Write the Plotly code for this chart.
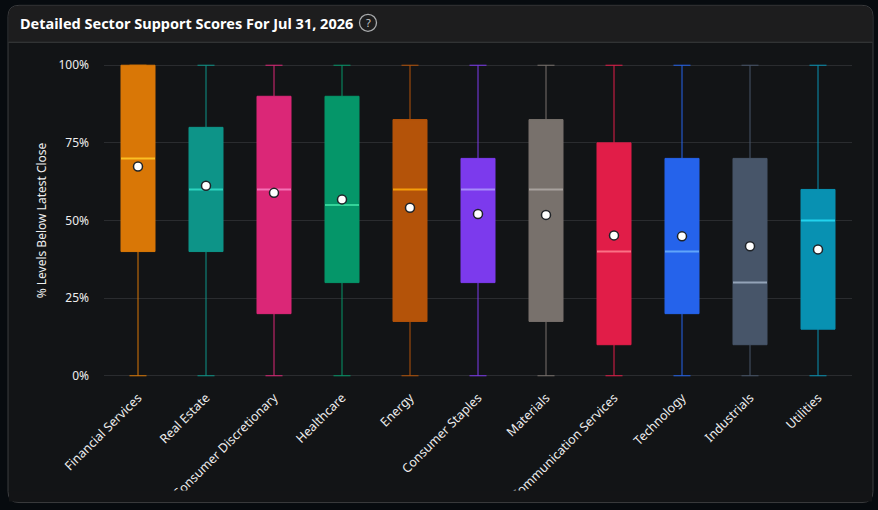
import plotly.graph_objects as go

# sector support score distributions (percent of levels below latest close)
sectors = ['Financial Services', 'Real Estate', 'Consumer Discretionary', 'Healthcare', 'Energy',
           'Consumer Staples', 'Materials', 'Communication Services', 'Technology', 'Industrials', 'Utilities']
lows = [0, 0, 0, 0, 0, 0, 0, 0, 0, 0, 0]
q1s = [40, 40, 20, 30, 17.5, 30, 17.5, 10, 20, 10, 15]
medians = [70, 60, 60, 55, 60, 60, 60, 40, 40, 30, 50]
q3s = [100, 80, 90, 90, 82.5, 70, 82.5, 75, 70, 70, 60]
highs = [100, 100, 100, 100, 100, 100, 100, 100, 100, 100, 100]
means = [67.4, 61.2, 58.9, 56.8, 54.1, 52.1, 51.8, 45.2, 44.9, 41.7, 40.7]

box_colors = ['#d97706', '#0d9488', '#db2777', '#059669', '#b45309', '#7c3aed',
              '#78716c', '#e11d48', '#2563eb', '#475569', '#0891b2']
median_colors = ['#fbbf24', '#2dd4bf', '#f472b6', '#34d399', '#f59e0b', '#a78bfa',
                 '#a8a29e', '#fb7185', '#60a5fa', '#94a3b8', '#22d3ee']

W, H = 878, 510
# y range is padded a little so the caps at 0 and 100 are not clipped
YPAD = 0.4
ML, MR = 104, 26
MT = 65 - 311 * YPAD / 100
MB = H - 376 - 311 * YPAD / 100
PW, PH = W - ML - MR, H - MT - MB


def px(x):
    return (x - ML) / PW


def py(y):
    return (H - MB - y) / PH


fig = go.Figure()

for i, s in enumerate(sectors):
    fig.add_trace(go.Box(
        x=[s], q1=[q1s[i]], median=[medians[i]], q3=[q3s[i]],
        lowerfence=[lows[i]], upperfence=[highs[i]],
        fillcolor=box_colors[i], line=dict(color=box_colors[i], width=1),
        width=0.5, whiskerwidth=0.5, name=s, showlegend=False,
    ))
    # lighter median line drawn as a flat box on top
    fig.add_trace(go.Box(
        x=[s], q1=[medians[i]], median=[medians[i]], q3=[medians[i]],
        lowerfence=[medians[i]], upperfence=[medians[i]],
        fillcolor='rgba(0,0,0,0)', line=dict(color=median_colors[i], width=2),
        width=0.5, whiskerwidth=0, showlegend=False, hoverinfo='skip',
    ))

fig.add_trace(go.Scatter(
    x=sectors, y=means, mode='markers', showlegend=False, name='Mean',
    marker=dict(color='white', size=9, line=dict(color='#1f2328', width=1.5)),
))


def rounded(x0, y0, x1, y1, r, top=True, bottom=True):
    # path in pixels converted to paper coords
    pts = []
    if top:
        pts.append(f"M {px(x0)},{py(y0 + r)} Q {px(x0)},{py(y0)} {px(x0 + r)},{py(y0)}")
        pts.append(f"L {px(x1 - r)},{py(y0)} Q {px(x1)},{py(y0)} {px(x1)},{py(y0 + r)}")
    else:
        pts.append(f"M {px(x0)},{py(y0)} L {px(x1)},{py(y0)}")
    if bottom:
        pts.append(f"L {px(x1)},{py(y1 - r)} Q {px(x1)},{py(y1)} {px(x1 - r)},{py(y1)}")
        pts.append(f"L {px(x0 + r)},{py(y1)} Q {px(x0)},{py(y1)} {px(x0)},{py(y1 - r)}")
    else:
        pts.append(f"L {px(x1)},{py(y1)} L {px(x0)},{py(y1)}")
    return " ".join(pts) + " Z"


shapes = [
    dict(type='path', xref='paper', yref='paper', layer='below',
         path=rounded(8, 5, 873, 503, 11), fillcolor='#121416', line=dict(color='#3b3c3e', width=1)),
    dict(type='path', xref='paper', yref='paper', layer='below',
         path=rounded(8.5, 5.5, 872.5, 42, 10.5, bottom=False), fillcolor='#1d1d1e', line=dict(width=0)),
    dict(type='line', xref='paper', yref='paper', layer='below',
         x0=px(8.5), x1=px(872.5), y0=py(42), y1=py(42), line=dict(color='#3b3c3e', width=1)),
    dict(type='circle', xref='paper', yref='paper', layer='above',
         x0=px(359.5), x1=px(376.5), y0=py(14), y1=py(31), line=dict(color='#a9abad', width=1.3)),
    # the chart container clips the long rotated labels
    dict(type='rect', xref='paper', yref='paper', layer='above',
         x0=px(9), x1=px(872), y0=py(491), y1=py(502), fillcolor='#131416', line=dict(width=0)),
]

fig.update_layout(
    width=W, height=H,
    margin=dict(l=ML, r=MR, t=MT, b=MB, autoexpand=False),
    paper_bgcolor='#070b0f', plot_bgcolor='rgba(0,0,0,0)',
    boxmode='overlay',
    font=dict(family='Noto Sans, Open Sans, sans-serif', color='#e6e6e6', size=12),
    shapes=shapes,
    annotations=[
        dict(text='<b>Detailed Sector Support Scores For Jul 31, 2026</b>', xref='paper', yref='paper',
             x=px(18), y=py(23), xanchor='left', yanchor='middle', showarrow=False,
             font=dict(size=14.5, color='#ffffff')),
        dict(text='?', xref='paper', yref='paper', x=px(368), y=py(22.5), xanchor='center', yanchor='middle',
             showarrow=False, font=dict(size=11, color='#c8c8c8')),
    ],
    xaxis=dict(categoryorder='array', categoryarray=sectors, range=[-0.5, len(sectors) - 0.5],
               tickangle=-45, showgrid=False, zeroline=False, showline=False, ticklabelstandoff=10,
               tickfont=dict(size=12.5, color='#eeeeee'), fixedrange=True),
    yaxis=dict(range=[-YPAD, 100 + YPAD], tickvals=[0, 25, 50, 75, 100],
               ticktext=['0%', '25%', '50%', '75%', '100%'],
               showgrid=True, gridcolor='#2a2c2f', gridwidth=1, zeroline=False, ticklabelstandoff=14,
               tickfont=dict(size=12, color='#eeeeee'), fixedrange=True,
               title=dict(text='% Levels Below Latest Close', font=dict(size=12, color='#eeeeee'), standoff=9)),
)

# page body margin would shift the figure off the window
fig.write_html("out.html", config={'displayModeBar': False},
               post_script="document.body.style.margin='0';")
